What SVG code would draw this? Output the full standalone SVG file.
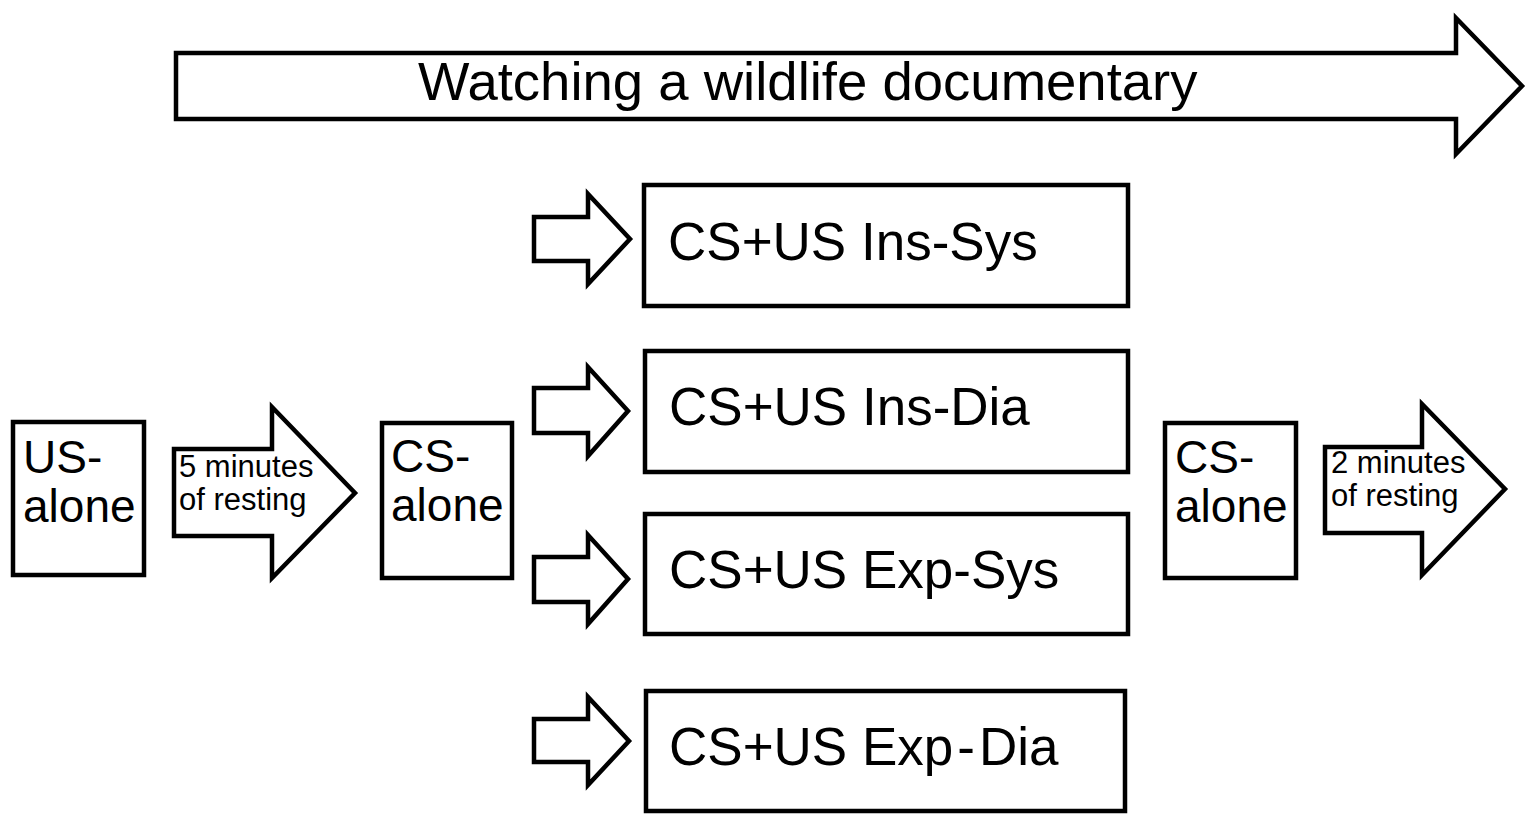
<svg xmlns="http://www.w3.org/2000/svg" width="1526" height="825" viewBox="0 0 1526 825">
<style>
.s{fill:#fff;stroke:#000;stroke-width:4.5;stroke-linejoin:miter}
text{font-family:"Liberation Sans",Arial,sans-serif;fill:#000}
.big{font-size:54.5px}
.box{font-size:53px}
.side{font-size:46px}
.small{font-size:31px}
</style>
<rect width="1526" height="825" fill="#fff"/>
<g id="timeline">
<polygon class="s" points="176,53 1456,53 1456,18 1522,86 1456,154 1456,119 176,119"/>
<text class="big" x="418" y="100">Watching a wildlife documentary</text>
</g>
<g id="connectors">
<polygon class="s" points="534,217 588,217 588,194 630,239 588,284 588,261 534,261"/>
<polygon class="s" points="534,388 588,388 588,367 628,411 588,456 588,433 534,433"/>
<polygon class="s" points="534,557 588,557 588,535 628,579 588,624 588,602 534,602"/>
<polygon class="s" points="534,719 588,719 588,697 629,741 588,785 588,762 534,762"/>
</g>
<g id="us-alone">
<rect class="s" x="13" y="422" width="131" height="153"/>
<text class="side" x="23" y="473">US-</text>
<text class="side" x="23" y="522">alone</text>
</g>
<g id="rest5">
<polygon class="s" points="174,449 272,449 272,407 355,493 272,578 272,536 174,536"/>
<text class="small" x="179" y="477">5 minutes</text>
<text class="small" x="179" y="510">of resting</text>
</g>
<g id="cs-alone-1">
<rect class="s" x="382" y="423" width="130" height="155"/>
<text class="side" x="391" y="472">CS-</text>
<text class="side" x="391" y="521">alone</text>
</g>
<g id="ins-sys">
<rect class="s" x="644" y="185" width="484" height="121"/>
<text class="box" x="668" y="260">CS+US Ins-Sys</text>
</g>
<g id="ins-dia">
<rect class="s" x="645" y="351" width="483" height="121"/>
<text class="box" x="669" y="425">CS+US Ins-Dia</text>
</g>
<g id="exp-sys">
<rect class="s" x="645" y="514" width="483" height="120"/>
<text class="box" x="669" y="588">CS+US Exp-Sys</text>
</g>
<g id="exp-dia">
<rect class="s" x="646" y="691" width="479" height="120"/>
<text class="box" x="669" y="765">CS+US Exp<tspan dx="4">-</tspan><tspan dx="4">Dia</tspan></text>
</g>
<g id="cs-alone-2">
<rect class="s" x="1165" y="423" width="131" height="155"/>
<text class="side" x="1175" y="473">CS-</text>
<text class="side" x="1175" y="522">alone</text>
</g>
<g id="rest2">
<polygon class="s" points="1325,447 1422,447 1422,404 1505,489 1422,575 1422,533 1325,533"/>
<text class="small" x="1331" y="473">2 minutes</text>
<text class="small" x="1331" y="506">of resting</text>
</g>
</svg>
